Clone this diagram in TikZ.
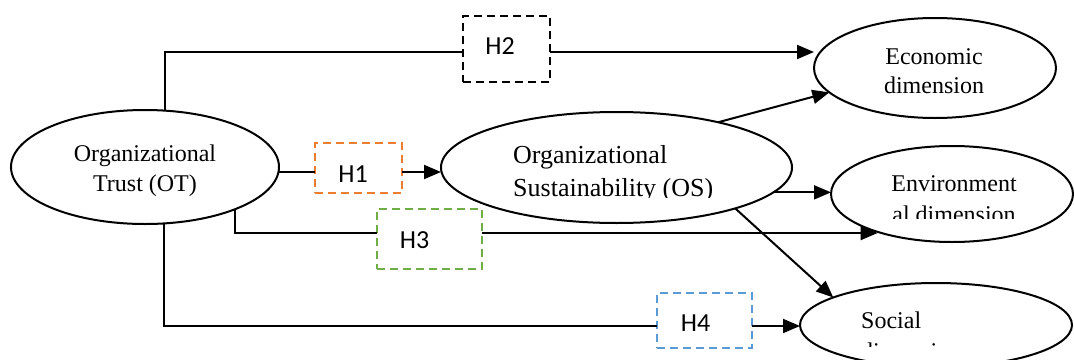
\documentclass[tikz,border=0pt]{standalone}
\usepackage{fontspec}
\setmainfont{Liberation Serif}
\newfontfamily\hfont{Carlito}
\usetikzlibrary{shapes.geometric,arrows.meta}
\definecolor{hOrange}{HTML}{ED7D31}
\definecolor{hGreen}{HTML}{70AD47}
\definecolor{hBlue}{HTML}{5B9BD5}
\begin{document}
\begin{tikzpicture}[x=1pt,y=-1pt,
  ell/.style={draw,ellipse,line width=2pt,inner sep=0pt,outer sep=0pt},
  hb/.style={draw,line width=2.6pt,dash pattern=on 8pt off 5pt,inner sep=0pt,outer sep=0pt},
  htxt/.style={font=\hfont\fontsize{26}{30}\selectfont,inner sep=0pt},
  t24/.style={font=\fontsize{24}{28}\selectfont,inner sep=0pt},
  t26/.style={font=\fontsize{26}{30}\selectfont,inner sep=0pt},
  conn/.style={line width=2pt},
  arr/.style={line width=2pt,-{Triangle[length=17pt,width=14pt]}}]
\useasboundingbox (0,0) rectangle (1074,359);

% ellipses
\node[ell,minimum width=268pt,minimum height=114pt] (OT) at (145,167) {};
\node[ell,minimum width=351pt,minimum height=111pt] (OS) at (616.5,167.5) {};
\node[ell,minimum width=242pt,minimum height=100pt] (Eco) at (935,68) {};
\node[ell,minimum width=242pt,minimum height=96pt] (Env) at (952,194) {};
\node[ell,minimum width=272pt,minimum height=84pt] (Soc) at (936,325) {};

% ellipse texts
\node[t24,anchor=base] (OTa) at (145,161) {Organizational};
\node[t24,anchor=base] (OTb) at (145,191) {Trust (OT)};
\node[t26,anchor=base west] (OSa) at (513,163) {Organizational};
\begin{scope}
  \clip (441,100) rectangle (792,197);
  \node[t26,anchor=base west] (OSb) at (513,196) {Sustainability (OS)};
\end{scope}
\node[t24,anchor=base] (EcoA) at (934,64) {Economic};
\node[t24,anchor=base] (EcoB) at (934,93) {dimension};
\node[t24,anchor=base] (EnvA) at (954,191) {Environment};
\begin{scope}
  \clip (832,195) rectangle (1074,218);
  \node[t24,anchor=base] (EnvB) at (954,222) {al dimension};
\end{scope}
\node[t24,anchor=base west] (SocA) at (861,328) {Social};
\begin{scope}
  \clip (800,330) rectangle (1074,346);
  \node[t24,anchor=base west] (SocB) at (861,359) {dimension};
\end{scope}

% hypothesis boxes
\node[hb,draw=black,minimum width=87pt,minimum height=66pt] (H2) at (506.5,49) {};
\node[hb,draw=hOrange,minimum width=87pt,minimum height=50pt] (H1) at (358.5,168) {};
\node[hb,draw=hGreen,minimum width=105pt,minimum height=60pt] (H3) at (429.5,239) {};
\node[hb,draw=hBlue,minimum width=95pt,minimum height=55pt] (H4) at (704.5,320.5) {};
\node[htxt] (H2t) at (500,46) {H2};
\node[htxt] (H1t) at (353,174) {H1};
\node[htxt] (H3t) at (414.5,240) {H3};
\node[htxt] (H4t) at (695.5,323.5) {H4};

% rows
\coordinate (r2) at (0,52);
\coordinate (r1) at (0,172);
\coordinate (r3) at (0,233);
\coordinate (r4) at (0,326);

% connectors
\draw[conn] ([xshift=20pt]OT.north) |- (H2.west |- r2);
\draw[arr] (H2.east |- r2) -- (Eco.west |- r2);
\draw[conn] (OT.east |- r1) -- (H1.west |- r1);
\draw[arr] (H1.east |- r1) -- (OS.west |- r1);
\draw[conn] (OT.-25) |- (H3.west |- r3);
\draw[arr] (H3.east |- r3) -- (Env.207 |- r3);
\draw[conn] ([xshift=19pt]OT.south) |- (H4.west |- r4);
\draw[arr] (H4.east |- r4) -- (Soc.west |- r4);
\draw[arr] (OS.24) -- (Eco.193);
\draw[arr] (OS.-9) -- (OS.-9 -| Env.west);
\draw[arr] (OS.-19) -- (Soc.165);
\end{tikzpicture}
\end{document}
